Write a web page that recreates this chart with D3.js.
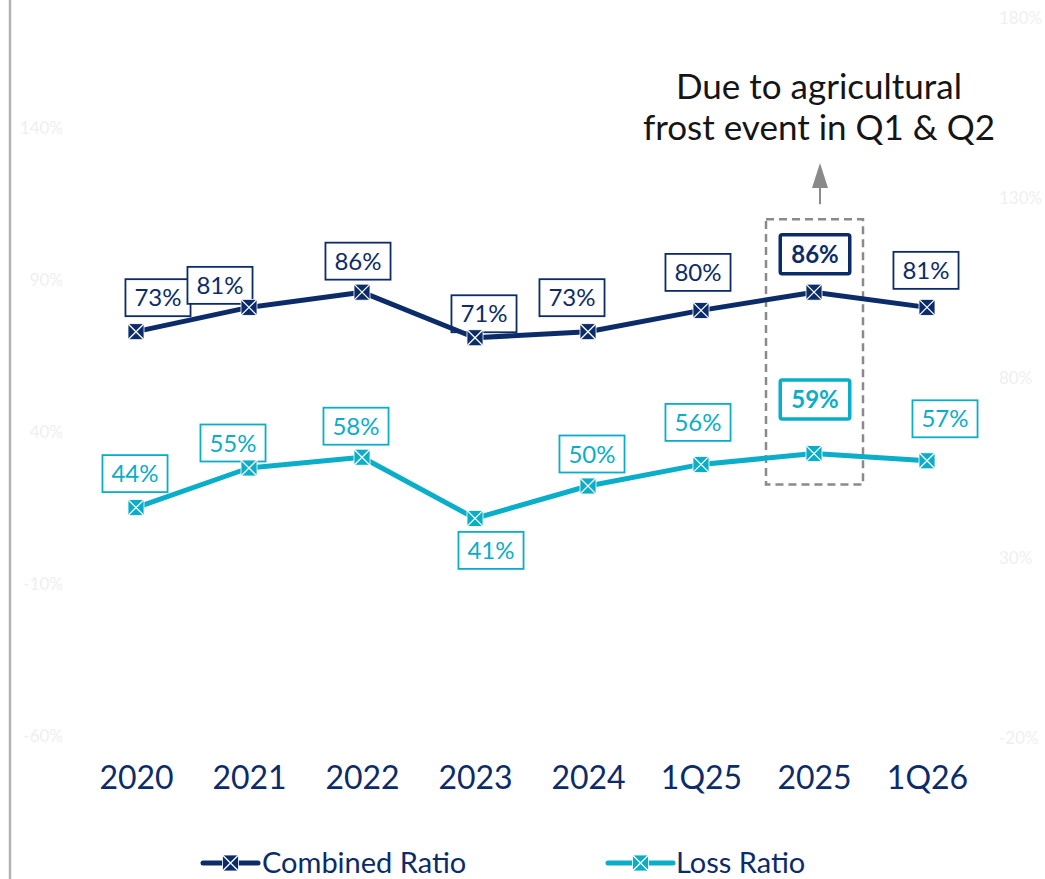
<!DOCTYPE html>
<html>
<head>
<meta charset="utf-8">
<script src="https://cdn.jsdelivr.net/npm/d3@7/dist/d3.min.js"></script>
<style>
  html, body { margin: 0; padding: 0; background: #ffffff; }
  svg { display: block; font-family: Lato, "Open Sans", sans-serif; }
</style>
</head>
<body>
<svg id="chart" width="1045" height="879"></svg>
<script>
// Periods on the x axis
const categories = ["2020", "2021", "2022", "2023", "2024", "1Q25", "2025", "1Q26"];
// Ratios in percent
const combinedRatio = [73, 81, 86, 71, 73, 80, 86, 81];
const lossRatio = [44, 55, 58, 41, 50, 56, 59, 57];
// Axis tick values (percent)
const leftTicks = [140, 90, 40, -10, -60];
const rightTicks = [180, 130, 80, 30, -20];
// Period singled out by the annotation
const highlightPeriod = "2025";
const noteLines = ["Due to agricultural", "frost event in Q1 & Q2"];

// Label box placement relative to each point: [dx, dy] of box centre
const combinedLabelOffsets = [[22, -34], [-29, -22], [-4, -31], [9, -24], [-16, -34], [-3, -38], [1, -38], [-1, -37]];
const lossLabelOffsets = [[-1, -34], [-16, -25], [-6, -31], [16, 32], [4, -32], [-3, -42], [1, -54], [18, -42]];

const navy = "#0c2c69";
const teal = "#0aaec8";
const grey = "#8a8a8a";

const svg = d3.select("#chart");

const x = d3.scalePoint().domain(categories).range([136, 927]);
const yLeft = d3.scaleLinear().domain([-60, 140]).range([736, 128]);
const yRight = d3.scaleLinear().domain([-20, 180]).range([738, 18]);

// Left frame rule
svg.append("line")
  .attr("x1", 10).attr("x2", 10).attr("y1", 0).attr("y2", 879)
  .attr("stroke", "#b3b3b3").attr("stroke-width", 2.5);

// Faint value axes
const fmt = d => d + "%";
const leftAxis = svg.append("g").attr("transform", "translate(63,0)")
  .call(d3.axisLeft(yLeft).tickValues(leftTicks).tickFormat(fmt).tickSize(0).tickPadding(0));
const rightAxis = svg.append("g").attr("transform", "translate(999,0)")
  .call(d3.axisRight(yRight).tickValues(rightTicks).tickFormat(fmt).tickSize(0).tickPadding(0));
[leftAxis, rightAxis].forEach(g => {
  g.select(".domain").remove();
  g.selectAll("text").attr("fill", "#efefef").attr("font-size", 17)
    .attr("font-family", "Lato, sans-serif");
});

// Category axis
const xAxis = svg.append("g").attr("transform", "translate(0,778)")
  .call(d3.axisBottom(x).tickSize(0).tickPadding(0));
xAxis.select(".domain").remove();
xAxis.selectAll("text").attr("fill", navy).attr("font-size", 32)
  .attr("font-family", "Lato, sans-serif").attr("dy", "0.35em");

// Dashed highlight box around the 2025 points
const hx = x(highlightPeriod);
const hTop = yLeft(combinedRatio[categories.indexOf(highlightPeriod)]) - 73;
const hBottom = yRight(lossRatio[categories.indexOf(highlightPeriod)]) + 31;
svg.append("rect")
  .attr("x", hx - 48).attr("y", hTop)
  .attr("width", 97).attr("height", hBottom - hTop)
  .attr("fill", "none").attr("stroke", grey)
  .attr("stroke-width", 2.5).attr("stroke-dasharray", "8,5");

// Arrow up to the note
const ax = hx + 6;
svg.append("line")
  .attr("x1", ax).attr("x2", ax)
  .attr("y1", hTop - 15).attr("y2", 186)
  .attr("stroke", grey).attr("stroke-width", 2);
svg.append("path")
  .attr("d", `M${ax},163 L${ax + 8},188 L${ax - 8},188 Z`)
  .attr("fill", grey);

// Note text
const note = svg.append("text")
  .attr("x", hx + 5).attr("y", 99)
  .attr("text-anchor", "middle")
  .attr("font-size", 35).attr("fill", "#151515");
noteLines.forEach((t, i) => {
  note.append("tspan").attr("x", hx + 5).attr("dy", i === 0 ? 0 : 41).text(t);
});

// Series definitions
const series = [
  { name: "Combined Ratio", values: combinedRatio, y: yLeft, color: navy, offsets: combinedLabelOffsets },
  { name: "Loss Ratio", values: lossRatio, y: yRight, color: teal, offsets: lossLabelOffsets }
];

// Value labels in outlined boxes
series.forEach(s => {
  categories.forEach((c, i) => {
    const strong = c === highlightPeriod;
    const cx = x(c) + s.offsets[i][0];
    const cy = s.y(s.values[i]) + s.offsets[i][1];
    const g = svg.append("g");
    const t = g.append("text")
      .attr("x", cx).attr("y", cy).attr("dy", "0.36em")
      .attr("text-anchor", "middle")
      .attr("font-size", 24)
      .attr("font-weight", strong ? 700 : 400)
      .attr("fill", s.color)
      .text(s.values[i] + "%");
    const bb = t.node().getBBox();
    const w = bb.width + (strong ? 22 : 18);
    const h = strong ? 39 : 37;
    g.insert("rect", "text")
      .attr("x", cx - w / 2).attr("y", cy - h / 2)
      .attr("width", w).attr("height", h)
      .attr("rx", strong ? 2 : 0)
      .attr("fill", "#ffffff")
      .attr("stroke", s.color)
      .attr("stroke-width", strong ? 3.5 : 1.8);
  });
});

// Lines
series.forEach(s => {
  const line = d3.line().x((d, i) => x(categories[i])).y(d => s.y(d));
  svg.append("path").datum(s.values)
    .attr("d", line)
    .attr("fill", "none").attr("stroke", s.color)
    .attr("stroke-width", 5).attr("stroke-linejoin", "round");
});

// Square markers with a white cross
function drawMarker(parent, cx, cy, color) {
  const r = 8;
  parent.append("rect")
    .attr("x", cx - r).attr("y", cy - r).attr("width", 2 * r).attr("height", 2 * r)
    .attr("fill", color).attr("stroke", "#ffffff").attr("stroke-width", 0.8);
  parent.append("path")
    .attr("d", `M${cx - r},${cy - r}L${cx + r},${cy + r}M${cx + r},${cy - r}L${cx - r},${cy + r}`)
    .attr("stroke", "#ffffff").attr("stroke-width", 1.3);
}
series.forEach(s => {
  const g = svg.append("g");
  s.values.forEach((v, i) => drawMarker(g, x(categories[i]), s.y(v), s.color));
});

// Legend
const legendItems = [
  { s: series[0], x0: 203, x1: 258, tx: 262 },
  { s: series[1], x0: 608, x1: 673, tx: 676 }
];
legendItems.forEach(it => {
  const ly = 863;
  svg.append("line")
    .attr("x1", it.x0).attr("x2", it.x1).attr("y1", ly).attr("y2", ly)
    .attr("stroke", it.s.color).attr("stroke-width", 5).attr("stroke-linecap", "round");
  drawMarker(svg, (it.x0 + it.x1) / 2, ly, it.s.color);
  svg.append("text")
    .attr("x", it.tx).attr("y", ly).attr("dy", "0.35em")
    .attr("font-size", 29).attr("fill", navy)
    .text(it.s.name);
});
</script>
</body>
</html>
